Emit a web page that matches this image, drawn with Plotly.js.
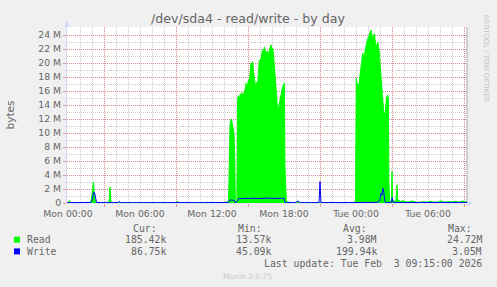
<!DOCTYPE html>
<html>
<head>
<meta charset="utf-8">
<script src="https://cdn.plot.ly/plotly-3.0.1.min.js"></script>
<style>
html,body{margin:0;padding:0;background:#f0f0f0;}
#chart{width:497px;height:287px;}
</style>
</head>
<body>
<div id="chart"></div>
<script>
// ---- data (hours since Mon 00:00, values in M bytes) ----
const readHours = [-0.08,0.05,0.12,0.2,0.6,1.0,1.5,1.9,2.0,2.08,2.12,2.2,2.3,2.6,3.0,3.42,3.5,3.58,4.0,4.5,5.0,5.5,6.0,6.5,7.0,7.5,8.0,8.5,9.0,9.1,9.2,9.6,10.0,10.5,11.0,11.5,12.0,12.5,13.0,13.38,13.44,13.5,13.58,13.66,13.75,13.84,13.9,13.95,14.08,14.13,
14.2,14.28,14.36,14.44,14.52,14.6,14.68,14.76,14.83,14.9,14.97,15.04,15.1,15.18,15.25,15.32,15.39,15.46,15.53,15.6,15.67,15.74,15.81,15.88,15.94,16.01,16.08,16.15,16.22,16.29,16.36,16.43,16.5,16.57,16.64,16.71,16.78,16.85,16.92,16.99,17.06,17.13,17.19,17.26,17.33,17.4,17.47,17.54,17.61,17.68,17.75,17.82,17.89,17.96,18.03,18.08,18.14,18.2,
18.5,19.0,19.15,19.3,19.8,20.3,20.8,21.3,21.8,22.3,22.8,23.3,23.8,23.96,
24.02,24.08,24.14,24.21,24.28,24.35,24.42,24.49,24.56,24.62,24.69,24.76,24.83,24.9,24.97,25.04,25.11,25.18,25.25,25.32,25.39,25.46,25.53,25.6,25.67,25.74,25.81,25.88,25.94,26.01,26.08,26.15,26.22,26.29,26.36,26.44,26.5,26.56,26.64,26.7,26.74,26.8,
26.9,26.96,27.0,27.04,27.15,27.25,27.33,27.42,27.48,27.6,27.75,27.9,28.1,28.4,28.7,29.0,29.3,29.6,29.9,30.2,30.5,30.8,31.1,31.4,31.7,32.0,32.3,32.6,32.9,33.1,33.25];
const readValues = [0.05,0.06,0.35,0.06,0.04,0.08,0.05,0.1,1.2,2.9,3.0,1.0,0.1,0.06,0.05,0.1,2.3,0.1,0.06,0.08,0.04,0.06,0.05,0.07,0.05,0.06,0.05,0.08,0.06,0.25,0.06,0.05,0.07,0.05,0.06,0.05,0.08,0.06,0.07,0.2,9.5,11.2,12.0,11.6,10.8,9.8,6.0,0.3,0.25,14.8,
15.3,14.9,15.6,15.2,15.8,15.4,15.7,16.2,17.1,16.5,16.9,17.6,17.2,18.6,20.0,19.4,20.2,18.8,17.6,17.0,16.6,17.3,17.0,18.6,20.4,20.0,20.9,21.3,21.9,21.5,22.3,21.8,21.1,21.7,21.4,21.2,21.9,22.3,22.6,22.0,22.1,21.2,20.0,18.3,16.6,14.8,13.3,13.6,14.3,15.1,15.7,16.2,16.6,16.9,17.1,5.0,0.4,0.2,
0.08,0.06,0.2,0.07,0.05,0.06,0.05,0.07,0.05,0.06,0.08,0.06,0.07,0.3,
17.8,17.1,16.6,16.9,17.3,18.5,19.7,20.6,21.4,21.0,20.9,21.8,22.6,23.0,23.5,23.7,24.0,24.4,24.72,24.1,23.5,23.9,24.2,23.2,22.1,22.6,23.0,22.3,21.6,19.8,17.8,16.0,14.5,13.4,12.6,13.0,14.2,15.2,15.4,14.8,3.0,0.3,
0.2,0.5,4.5,0.5,0.3,0.2,0.4,2.6,0.4,0.3,0.2,0.35,0.2,0.15,0.3,0.12,0.1,0.2,0.1,0.25,0.12,0.15,0.3,0.12,0.2,0.15,0.25,0.12,0.3,0.15,0.185];

const writeHours = [-0.08,0.5,1.0,1.5,1.9,1.98,2.06,2.14,2.22,2.3,2.38,3.0,3.5,4.2,4.28,4.36,5,6,7,8,8.9,9.0,9.1,10,11,12,13,13.38,13.45,13.55,13.7,13.85,13.92,14.05,14.15,14.22,14.5,14.8,15.1,15.4,15.7,16.0,16.3,16.6,16.9,17.2,17.5,17.8,18.0,18.07,18.2,19.0,19.08,19.2,19.28,20,20.92,21.0,21.08,22,22.5,23,24,24.5,25,25.5,25.9,26.0,26.08,26.15,26.24,26.32,26.4,26.5,26.9,26.96,27.02,27.08,27.5,28,29,30,31,32,33.25];
const writeValues = [0.06,0.05,0.06,0.05,0.07,0.3,1.0,1.55,1.45,0.5,0.08,0.05,0.07,0.06,0.25,0.06,0.05,0.06,0.05,0.06,0.05,0.15,0.05,0.06,0.05,0.06,0.05,0.08,0.4,0.45,0.42,0.35,0.1,0.08,0.55,0.65,0.62,0.68,0.63,0.7,0.64,0.68,0.62,0.7,0.66,0.68,0.64,0.7,0.68,0.1,0.06,0.06,0.25,0.25,0.06,0.05,0.06,3.05,0.06,0.06,0.05,0.06,0.05,0.07,0.06,0.08,0.15,0.5,1.4,1.1,2.1,1.5,0.2,0.07,0.06,0.1,0.75,0.1,0.06,0.07,0.06,0.08,0.07,0.06,0.087];

const xTickHours = [0,6,12,18,24,30];
const xTickLabels = ["Mon 00:00","Mon 06:00","Mon 12:00","Mon 18:00","Tue 00:00","Tue 06:00"];
const yTickValues = [0,2,4,6,8,10,12,14,16,18,20,22,24];
const yTickLabels = ["0","2 M","4 M","6 M","8 M","10 M","12 M","14 M","16 M","18 M","20 M","22 M","24 M"];

const seriesNames = ["Read","Write"];
const curValues = ["185.42k","86.75k"];
const minValues = ["13.57k","45.09k"];
const avgValues = ["3.98M","199.94k"];
const maxValues = ["24.72M","3.05M"];
const lastUpdate = "Last update: Tue Feb \u00a03 09:15:00 2026";

// ---- layout geometry ----
const W = 497, H = 287;
const L = 67, R = 467, T = 27, B = 203;
const fx = px => (px - L) / (R - L);
const fy = py => (B - py) / (B - T);
const xRange = [-1/12, 33.25];
const yRange = [0, 176/7];

const FONT = "DejaVu Sans, sans-serif";
const MONO = "DejaVu Sans Mono, monospace";
const TXT = "#666666";
const GRID = "rgba(143,143,143,0.45)";
const MGRID = "rgba(222,79,79,0.55)";
const AXIS = "#CFD6F8";

// full hourly ticks, labels only every 6h
const hourTicks = [];
const hourText = [];
for (let h = 0; h <= 33; h++) {
  hourTicks.push(h);
  const i = xTickHours.indexOf(h);
  hourText.push(i >= 0 ? xTickLabels[i] : "");
}

const traces = [
  {x: readHours, y: readValues, type: "scatter", mode: "lines", name: "Read",
   fill: "tozeroy", fillcolor: "#00ff00", line: {color: "#00ff00", width: 1},
   hoverinfo: "skip", showlegend: false},
  {x: writeHours, y: writeValues, type: "scatter", mode: "lines", name: "Write",
   line: {color: "#0000ff", width: 1}, hoverinfo: "skip", showlegend: false},
  {x: [], y: [], xaxis: "x2", type: "scatter", mode: "lines", hoverinfo: "skip", showlegend: false}
];

const annotations = [];
function txt(text, px, py, anchor, font, extra) {
  annotations.push(Object.assign({
    text: text, x: fx(px), y: fy(py), xref: "paper", yref: "paper",
    xanchor: anchor, yanchor: "middle", showarrow: false, font: font, borderpad: 0
  }, extra || {}));
}
const monoFont = {family: MONO, size: 9.8, color: TXT};
txt("Cur:", 131.7, 228, "left", monoFont);
txt("Min:", 236.5, 228, "left", monoFont);
txt("Avg:", 341.5, 228, "left", monoFont);
txt("Max:", 446.5, 228, "left", monoFont);
const rowY = [239.7, 251.4];
for (let i = 0; i < seriesNames.length; i++) {
  txt(seriesNames[i], 26, rowY[i], "left", monoFont);
  txt(curValues[i], 167, rowY[i], "right", monoFont);
  txt(minValues[i], 272, rowY[i], "right", monoFont);
  txt(avgValues[i], 377.7, rowY[i], "right", monoFont);
  txt(maxValues[i], 483, rowY[i], "right", monoFont);
}
txt(lastUpdate, 483, 263.2, "right", monoFont);
txt("Munin 2.0.75", 247.5, 276.3, "center", {family: FONT, size: 7.5, color: "#c8c8c8"});
txt("RRDTOOL / TOBI OETIKER", 486.7, 58.5, "center", {family: FONT, size: 6.8, color: "#c0c0c0"}, {textangle: 90});

const legendColors = ["#00ff00", "#0000ff"];
const shapes = [];
for (let i = 0; i < 2; i++) {
  shapes.push({type: "rect", xref: "paper", yref: "paper",
    x0: fx(14), x1: fx(20), y0: fy(rowY[i] - 3), y1: fy(rowY[i] + 3),
    fillcolor: legendColors[i], line: {width: 0}});
}
// right frame line
shapes.push({type: "line", xref: "paper", yref: "paper", x0: 1, x1: 1, y0: 0, y1: 1,
  line: {color: "#a8a8a8", width: 1}, layer: "below"});
// axis arrows
shapes.push({type: "path", xref: "paper", yref: "paper",
  path: `M ${fx(64.5)},${fy(27)} L ${fx(67)},${fy(20.5)} L ${fx(69.5)},${fy(27)} Z`,
  fillcolor: AXIS, line: {width: 0}});
shapes.push({type: "path", xref: "paper", yref: "paper",
  path: `M ${fx(467)},${fy(200.5)} L ${fx(473.5)},${fy(203)} L ${fx(467)},${fy(205.5)} Z`,
  fillcolor: AXIS, line: {width: 0}});
shapes.push({type: "line", xref: "paper", yref: "paper", x0: 0, x1: fx(468), y0: 0, y1: 0,
  line: {color: AXIS, width: 1}, layer: "below"});

const layout = {
  width: W, height: H,
  margin: {l: L, r: W - R, t: T, b: H - B, pad: 0},
  paper_bgcolor: "#f0f0f0", plot_bgcolor: "#ffffff",
  font: {family: FONT, color: TXT, size: 9.3},
  title: {text: "/dev/sda4 - read/write - by day", xref: "container", yref: "container",
    x: 248/W, y: 1 - 19/H, xanchor: "center", yanchor: "middle",
    font: {family: FONT, size: 12.6, color: TXT}},
  showlegend: false,
  xaxis: {range: xRange, tickmode: "array", tickvals: hourTicks, ticktext: hourText,
    showgrid: true, gridcolor: GRID, griddash: "1px,1px", gridwidth: 1,
    zeroline: false, showline: false, ticks: "", ticklabelstandoff: 4,
    tickfont: {family: FONT, size: 9.3, color: TXT},
    layer: "below traces", fixedrange: true},
  xaxis2: {range: xRange, overlaying: "x", anchor: "y", side: "bottom", tickmode: "linear", tick0: 3, dtick: 6,
    showgrid: true, gridcolor: MGRID, griddash: "1px,1px", gridwidth: 1,
    showticklabels: false, ticks: "outside", ticklen: 3, tickcolor: MGRID,
    zeroline: false, showline: false, layer: "below traces", fixedrange: true},
  yaxis: {range: yRange, tickmode: "array", tickvals: yTickValues, ticktext: yTickLabels,
    showgrid: true, gridcolor: MGRID, griddash: "1px,1px", gridwidth: 1,
    minor: {dtick: 1, tick0: 0, showgrid: true, gridcolor: GRID, griddash: "1px,1px", gridwidth: 1, ticks: ""},
    ticks: "outside", ticklen: 3, tickcolor: MGRID,
    showline: true, linecolor: AXIS, linewidth: 1, zeroline: false,
    tickfont: {family: FONT, size: 9.3, color: TXT},
    title: {text: "bytes", font: {family: FONT, size: 10.5, color: TXT}, standoff: 21},
    layer: "below traces", fixedrange: true},
  shapes: shapes,
  annotations: annotations
};

Plotly.newPlot("chart", traces, layout, {staticPlot: true, displayModeBar: false});
</script>
</body>
</html>
